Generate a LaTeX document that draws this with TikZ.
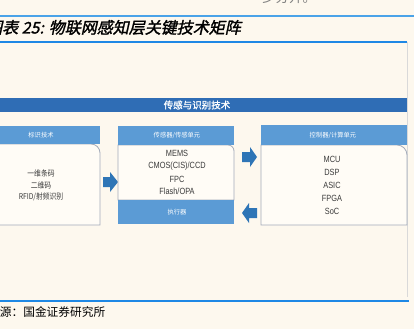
\documentclass[tikz,border=0pt]{standalone}
\usepackage{fontspec}
\setmainfont{Liberation Sans}
\newfontfamily\cjk{Noto Sans CJK SC}
\newfontfamily\cjkn{Noto Sans CJK SC}[FakeStretch=0.85]
\newfontfamily\cjkb{Noto Sans CJK SC}[FakeBold=1.2]
\newfontfamily\cjktitle{Noto Sans CJK SC}[FakeSlant=0.22,FakeBold=1.6]
\newfontfamily\narrow{Liberation Sans}[FakeStretch=0.82]
\definecolor{bgcream}{HTML}{FDF8EE}
\definecolor{bodyfill}{HTML}{FFFCF6}
\definecolor{bodyline}{HTML}{A3ABBA}
\definecolor{bannerblue}{HTML}{2F6DB5}
\definecolor{headblue}{HTML}{5B9BD5}
\definecolor{arrowblue}{HTML}{2E75B6}
\definecolor{ruleblue}{HTML}{1E88E5}
\definecolor{rulelight}{HTML}{4AA3E8}
\definecolor{textgray}{HTML}{3A3A3A}
\begin{document}
\begin{tikzpicture}[x=1pt,y=1pt,
  hdrtext/.style={font=\cjk\fontsize{6.3}{7}\selectfont,text=white,inner sep=0pt},
  bodytxt/.style={font=\narrow\fontsize{9}{10}\selectfont,text=textgray,inner sep=0pt},
  cjktxt/.style={font=\cjkn\fontsize{8}{9}\selectfont,text=textgray,inner sep=0pt},
  bodybox/.style={draw=bodyline,line width=0.8pt,fill=bodyfill},
  blockarrow/.style={fill=arrowblue,draw=none}]
\useasboundingbox (0,0) rectangle (414,-329);
\fill[bgcream] (0,0) rectangle (414,-329);

% top clipped text and rules
\node[anchor=base west,inner sep=0pt,text=gray,font=\cjk\fontsize{13.5}{14}\selectfont] (toptext) at (262,-3) {步分开。};
\draw[rulelight,line width=1.5pt] (0,-16) -- (414,-16);
\node[anchor=base west,inner sep=0pt,font=\cjktitle\fontsize{16}{18}\selectfont] (title) at (-14,-33.5) {图表 25: 物联网感知层关键技术矩阵};
\draw[ruleblue,line width=1.2pt] (0,-42) -- (407,-42);
\draw[black!15,line width=1pt] (407,-42) -- (407,-297);
\draw[ruleblue,line width=1.3pt] (0,-301) -- (409,-301);
\node[anchor=west,inner sep=0pt,font=\cjk\fontsize{11.7}{13}\selectfont] (source) at (-12,-312) {来源：国金证券研究所};

% banner
\fill[bannerblue] (-5,-98) rectangle (407,-112);
\node[font=\cjkb\fontsize{9.5}{11}\selectfont,text=white,inner sep=0pt] (banner) at (197,-105) {传感与识别技术};

% left box
\draw[bodybox] (-18,-144) -- (91,-144) arc[start angle=90,end angle=0,radius=9] -- (100,-225) -- (-18,-225) -- cycle;
\fill[headblue] (-18,-126) rectangle (100,-144);
\node[hdrtext] (lh) at (41,-135) {标识技术};
\node[cjktxt] (l1) at (41,-173) {一维条码};
\node[cjktxt] (l2) at (41,-185) {二维码};
\node[cjktxt] (l3) at (41,-197) {RFID/射频识别};

% arrow left -> middle
\fill[blockarrow] (103,-177) -- (110,-177) -- (110,-172) -- (118,-182) -- (110,-192) -- (110,-187) -- (103,-187) -- cycle;

% middle box
\draw[bodybox] (118,-145) -- (228,-145) arc[start angle=90,end angle=0,radius=6] -- (234,-200) -- (118,-200) -- cycle;
\fill[headblue] (118,-126) rectangle (234,-145);
\fill[headblue] (118,-200) rectangle (234,-224);
\node[hdrtext] (mh) at (177,-135) {传感器/传感单元};
\node[bodytxt] (m1) at (177,-153) {MEMS};
\node[bodytxt] (m2) at (177,-166) {CMOS(CIS)/CCD};
\node[bodytxt] (m3) at (177,-179) {FPC};
\node[bodytxt] (m4) at (177,-191) {Flash/OPA};
\node[hdrtext] (mf) at (177,-212) {执行器};

% arrows middle <-> right
\fill[blockarrow] (242,-152) -- (250,-152) -- (250,-147) -- (257,-157) -- (250,-167) -- (250,-162) -- (242,-162) -- cycle;
\fill[blockarrow] (257,-208) -- (249,-208) -- (249,-203) -- (242,-213) -- (249,-223) -- (249,-218) -- (257,-218) -- cycle;

% right box
\draw[bodybox] (261,-145) -- (397,-145) arc[start angle=90,end angle=0,radius=10] -- (407,-225) -- (261,-225) -- cycle;
\fill[headblue] (261,-125) rectangle (407,-145);
\node[hdrtext] (rh) at (333,-135) {控制器/计算单元};
\node[bodytxt] (r1) at (332,-159) {MCU};
\node[bodytxt] (r2) at (332,-172) {DSP};
\node[bodytxt] (r3) at (332,-185) {ASIC};
\node[bodytxt] (r4) at (332,-198) {FPGA};
\node[bodytxt] (r5) at (332,-211) {SoC};
\end{tikzpicture}
\end{document}
